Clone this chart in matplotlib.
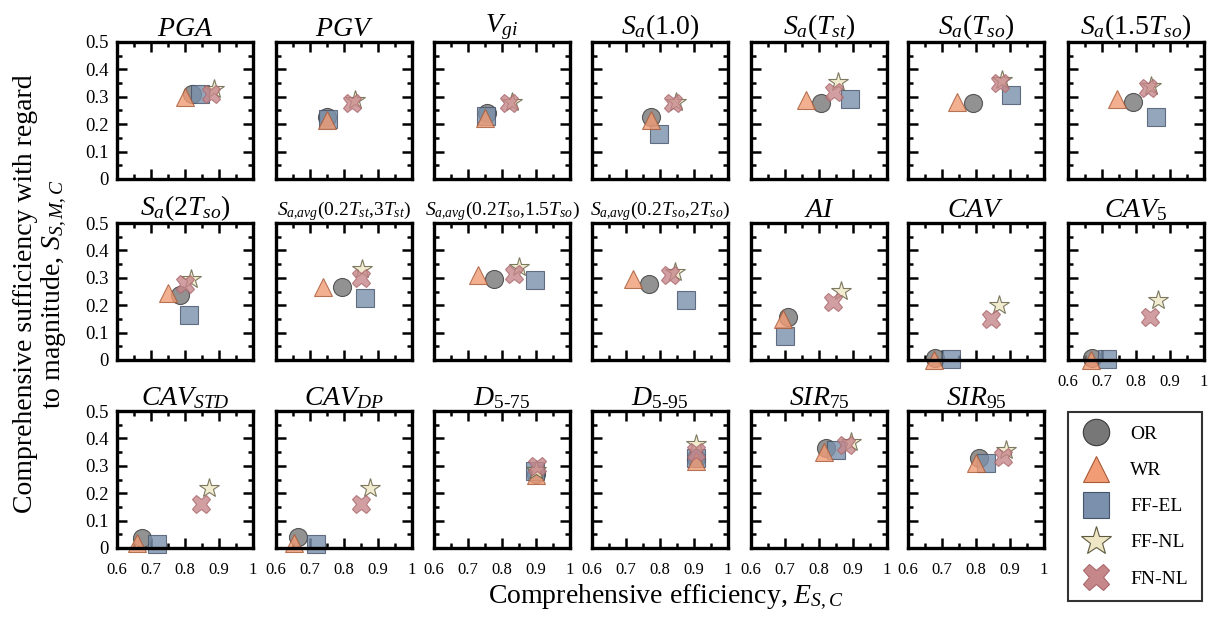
import matplotlib
matplotlib.use("Agg")
import matplotlib.pyplot as plt
from matplotlib.lines import Line2D
from matplotlib.ticker import MultipleLocator

plt.rcParams["font.family"] = ["Liberation Serif", "DejaVu Serif"]
plt.rcParams["mathtext.fontset"] = "custom"
plt.rcParams["mathtext.rm"] = "Liberation Serif"
plt.rcParams["mathtext.it"] = "Liberation Serif:italic"
plt.rcParams["mathtext.bf"] = "Liberation Serif:bold"

# =========================
# DATA
# =========================
titles = [
    r"$PGA$", r"$PGV$", r"$V_{gi}$", r"$S_a\mathrm{(1.0)}$", r"$S_a(T_{st})$",
    r"$S_a(T_{so})$", r"$S_a(1.5T_{so})$",
    r"$S_a(2T_{so})$", r"$S_{a{,}avg}(0.2T_{st}{,}3T_{st})$",
    r"$S_{a{,}avg}(0.2T_{so}{,}1.5T_{so})$", r"$S_{a{,}avg}(0.2T_{so}{,}2T_{so})$",
    r"$AI$", r"$CAV$", r"$CAV_{\mathit{5}}$",
    r"$CAV_{STD}$", r"$CAV_{DP}$", r"$D_{\mathit{5}\text{-}\mathit{75}}$",
    r"$D_{\mathit{5}\text{-}\mathit{95}}$",
    r"$SIR_{\mathit{75}}$", r"$SIR_{\mathit{95}}$",
]
small_titles = [8, 9, 10]

schemes = ["OR", "WR", "FF-EL", "FF-NL", "FN-NL"]

or_x = [0.82, 0.75, 0.756, 0.774, 0.807, 0.791, 0.79, 0.785, 0.794, 0.777, 0.769,
        0.708, 0.679, 0.67, 0.673, 0.666, 0.90, 0.907, 0.822, 0.81]
or_y = [0.31, 0.225, 0.24, 0.226, 0.277, 0.277, 0.281, 0.236, 0.267, 0.294, 0.279,
        0.156, 0.008, 0.008, 0.037, 0.039, 0.27, 0.33, 0.364, 0.327]

wr_x = [0.80, 0.75, 0.75, 0.774, 0.763, 0.744, 0.743, 0.751, 0.739, 0.73, 0.722,
        0.693, 0.677, 0.667, 0.659, 0.653, 0.90, 0.907, 0.816, 0.80]
wr_y = [0.30, 0.215, 0.222, 0.215, 0.288, 0.281, 0.292, 0.245, 0.267, 0.31, 0.294,
        0.15, 0.0, 0.0, 0.018, 0.018, 0.265, 0.316, 0.349, 0.31]

ffel_x = [0.845, 0.752, 0.754, 0.797, 0.892, 0.903, 0.86, 0.811, 0.862, 0.898, 0.875,
          0.699, 0.726, 0.714, 0.717, 0.719, 0.898, 0.907, 0.851, 0.83]
ffel_y = [0.31, 0.219, 0.23, 0.164, 0.292, 0.307, 0.226, 0.165, 0.228, 0.291, 0.218,
          0.087, 0.005, 0.005, 0.016, 0.015, 0.28, 0.327, 0.357, 0.31]

ffnl_x = [0.885, 0.833, 0.829, 0.847, 0.857, 0.876, 0.845, 0.818, 0.854, 0.85, 0.844,
          0.866, 0.868, 0.866, 0.871, 0.877, 0.90, 0.907, 0.895, 0.887]
ffnl_y = [0.33, 0.288, 0.281, 0.28, 0.354, 0.361, 0.34, 0.297, 0.333, 0.34, 0.322,
          0.252, 0.201, 0.219, 0.22, 0.22, 0.285, 0.38, 0.386, 0.357]

fnnl_x = [0.875, 0.824, 0.82, 0.838, 0.845, 0.871, 0.834, 0.80, 0.849, 0.835, 0.829,
          0.84, 0.844, 0.84, 0.847, 0.849, 0.902, 0.907, 0.88, 0.879]
fnnl_y = [0.31, 0.277, 0.277, 0.277, 0.318, 0.35, 0.332, 0.279, 0.30, 0.313, 0.31,
          0.212, 0.151, 0.158, 0.159, 0.159, 0.30, 0.35, 0.375, 0.331]

x_ticks = [0.6, 0.7, 0.8, 0.9, 1.0]
x_labels = ["0.6", "0.7", "0.8", "0.9", "1"]
y_ticks = [0, 0.1, 0.2, 0.3, 0.4, 0.5]
y_labels = ["0", "0.1", "0.2", "0.3", "0.4", "0.5"]

# style per scheme: marker, face, edge
styles = {
    "OR": ("o", "#777777", "#3a3a3a"),
    "WR": ("^", "#f19c74", "#a65a38"),
    "FF-EL": ("s", "#7a90ac", "#46546a"),
    "FF-NL": ("*", "#eee6c4", "#5e5a40"),
    "FN-NL": ("X", "#c6878b", "#a9686c"),
}
series = {
    "OR": (or_x, or_y),
    "WR": (wr_x, wr_y),
    "FF-EL": (ffel_x, ffel_y),
    "FF-NL": (ffnl_x, ffnl_y),
    "FN-NL": (fnnl_x, fnnl_y),
}
draw_order = ["OR", "FF-EL", "WR", "FF-NL", "FN-NL"]
msize = {"OR": 13, "WR": 13, "FF-EL": 13, "FF-NL": 15, "FN-NL": 13}

# =========================
# LAYOUT
# =========================
W, H = 1211, 618
fig = plt.figure(figsize=(W / 100, H / 100), dpi=100)

col_left = [117, 276, 434, 592, 751, 908, 1068]
row_top = [42, 223, 411]
pw, ph = 136, 137


def rect(left, top, w, h):
    return [left / W, 1 - (top + h) / H, w / W, h / H]


for i, title in enumerate(titles):
    r, c = divmod(i, 7)
    ax = fig.add_axes(rect(col_left[c], row_top[r], pw, ph))

    for name in draw_order:
        mk, fc, ec = styles[name]
        xs, ys = series[name]
        ax.plot(xs[i], ys[i], linestyle="none", marker=mk, markersize=msize[name],
                markerfacecolor=fc, markeredgecolor=ec, markeredgewidth=0.8,
                alpha=0.8, clip_on=False)

    ax.set_xlim(0.6, 1.0)
    ax.set_ylim(0, 0.5)
    ax.set_xticks(x_ticks)
    ax.set_xticklabels(x_labels)
    ax.set_yticks(y_ticks)
    ax.set_yticklabels(y_labels)
    ax.xaxis.set_minor_locator(MultipleLocator(0.05))
    ax.yaxis.set_minor_locator(MultipleLocator(0.05))
    ax.tick_params(which="both", direction="in", top=True, right=True, width=1.8)
    ax.tick_params(which="major", length=7)
    ax.tick_params(which="minor", length=3.5)
    ax.tick_params(axis="x", pad=10, labelsize=12)
    ax.tick_params(axis="y", pad=6, labelsize=13.5)
    show_x = (r == 2) or (i == 13)
    ax.tick_params(labelbottom=show_x, labelleft=(c == 0))
    for sp in ax.spines.values():
        sp.set_linewidth(2.4)

    fs = 14 if i in small_titles else 20
    ax.set_title(title, fontsize=fs, pad=3)

# axis labels
fig.text(41 / W, 1 - 294 / H,
         "Comprehensive sufficiency with regard\nto magnitude, $S_{S,M,C}$",
         rotation=90, ha="center", va="center", fontsize=20, linespacing=1.1)
fig.text(666 / W, 1 - 603 / H, "Comprehensive efficiency, $E_{S,C}$",
         ha="center", va="baseline", fontsize=20)

# legend
handles = []
for name in schemes:
    mk, fc, ec = styles[name]
    handles.append(Line2D([], [], linestyle="none", marker=mk,
                          markersize=22 if name == "FF-NL" else 19,
                          markerfacecolor=fc, markeredgecolor=ec,
                          markeredgewidth=0.8))
leg = fig.legend(handles, schemes, loc="upper left",
                 bbox_to_anchor=(1068 / W, 1 - 412 / H), borderaxespad=0,
                 fontsize=14, frameon=True, fancybox=False, edgecolor="black",
                 borderpad=0.7, labelspacing=0.95, handlelength=1.5,
                 handletextpad=1.0)
leg.get_frame().set_linewidth(1.5)

fig.savefig("out.png", dpi=100)
